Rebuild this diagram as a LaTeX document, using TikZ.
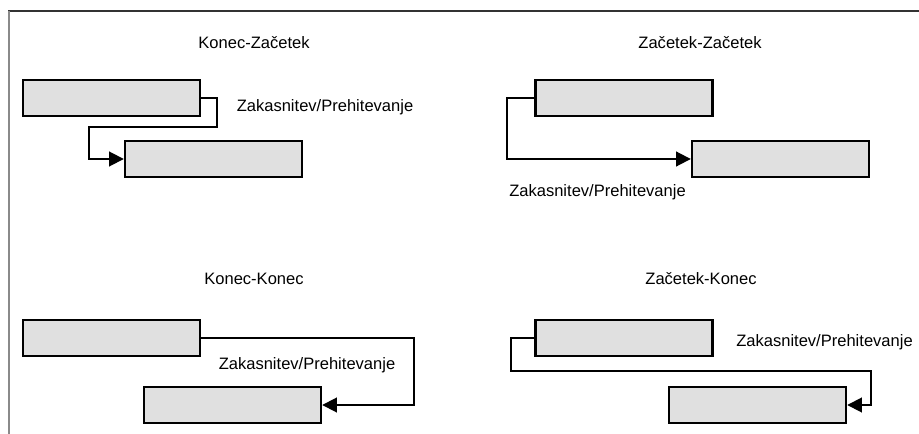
\documentclass[tikz,border=0pt]{standalone}
\usepackage{fontspec}
\setmainfont{Liberation Sans}
\usepackage{tikz}
\usetikzlibrary{arrows.meta}
\definecolor{boxgray}{HTML}{E0E0E0}
\definecolor{framedark}{HTML}{333333}
\definecolor{framelight}{HTML}{8A8A8A}
\tikzset{
  activity/.style={draw, line width=1.8pt, fill=boxgray, minimum width=132.75pt, minimum height=27pt, inner sep=0pt},
  link/.style={line width=1.4pt, -{Triangle[length=11pt,width=11pt]}},
  caption/.style={font=\fontsize{12.4}{14}\selectfont, anchor=base, inner sep=0pt}
}

\begin{document}
\begin{tikzpicture}[x=0.75pt, y=-0.75pt]
            \useasboundingbox (0,0) rectangle (919,434);
            % Okvir
            \draw[framedark, line width=1.5pt] (8,11) -- (919,11);
            \draw[framelight, line width=1.5pt] (8.5,11) -- (8.5,434);

            % Konec-Zacetek
            \node[caption] (titleKZ) at (254,49) {Konec-Začetek};
            \node[activity] (actKZa) at (111.5,98) {};
            \node[activity] (actKZb) at (213.5,159) {};
            \coordinate (bendKZa) at (217,127);
            \coordinate (bendKZb) at (89,127);
            \draw[link] (actKZa.east) -| (bendKZa) -- (bendKZb) |- (actKZb.west);
            \node[caption] (lagKZ) at (325,112) {Zakasnitev/Prehitevanje};

            % Zacetek-Zacetek
            \node[caption] (titleZZ) at (700,49) {Začetek-Začetek};
            \node[activity] (actZZa) at (624,98) {};
            \node[activity] (actZZb) at (780.5,159) {};
            \coordinate (bendZZ) at (507,159);
            \draw[link] (actZZa.west) -| (bendZZ) -- (actZZb.west);
            \node[caption] (lagZZ) at (597.5,197) {Zakasnitev/Prehitevanje};

            % Konec-Konec
            \node[caption] (titleKK) at (254,284) {Konec-Konec};
            \node[activity] (actKKa) at (111.5,338) {};
            \node[activity] (actKKb) at (232.5,405) {};
            \coordinate (bendKK) at (414,405);
            \draw[link] (actKKa.east) -| (bendKK) -- (actKKb.east);
            \node[caption] (lagKK) at (307,369) {Zakasnitev/Prehitevanje};

            % Zacetek-Konec
            \node[caption] (titleZK) at (701,284) {Začetek-Konec};
            \node[activity] (actZKa) at (624,338) {};
            \node[activity] (actZKb) at (757.5,405) {};
            \coordinate (bendZKa) at (511,371);
            \coordinate (bendZKb) at (871,405);
            \draw[link] (actZKa.west) -| (bendZKa) -| (bendZKb) -- (actZKb.east);
            \node[caption] (lagZK) at (824.5,346) {Zakasnitev/Prehitevanje};
\end{tikzpicture}
\end{document}
